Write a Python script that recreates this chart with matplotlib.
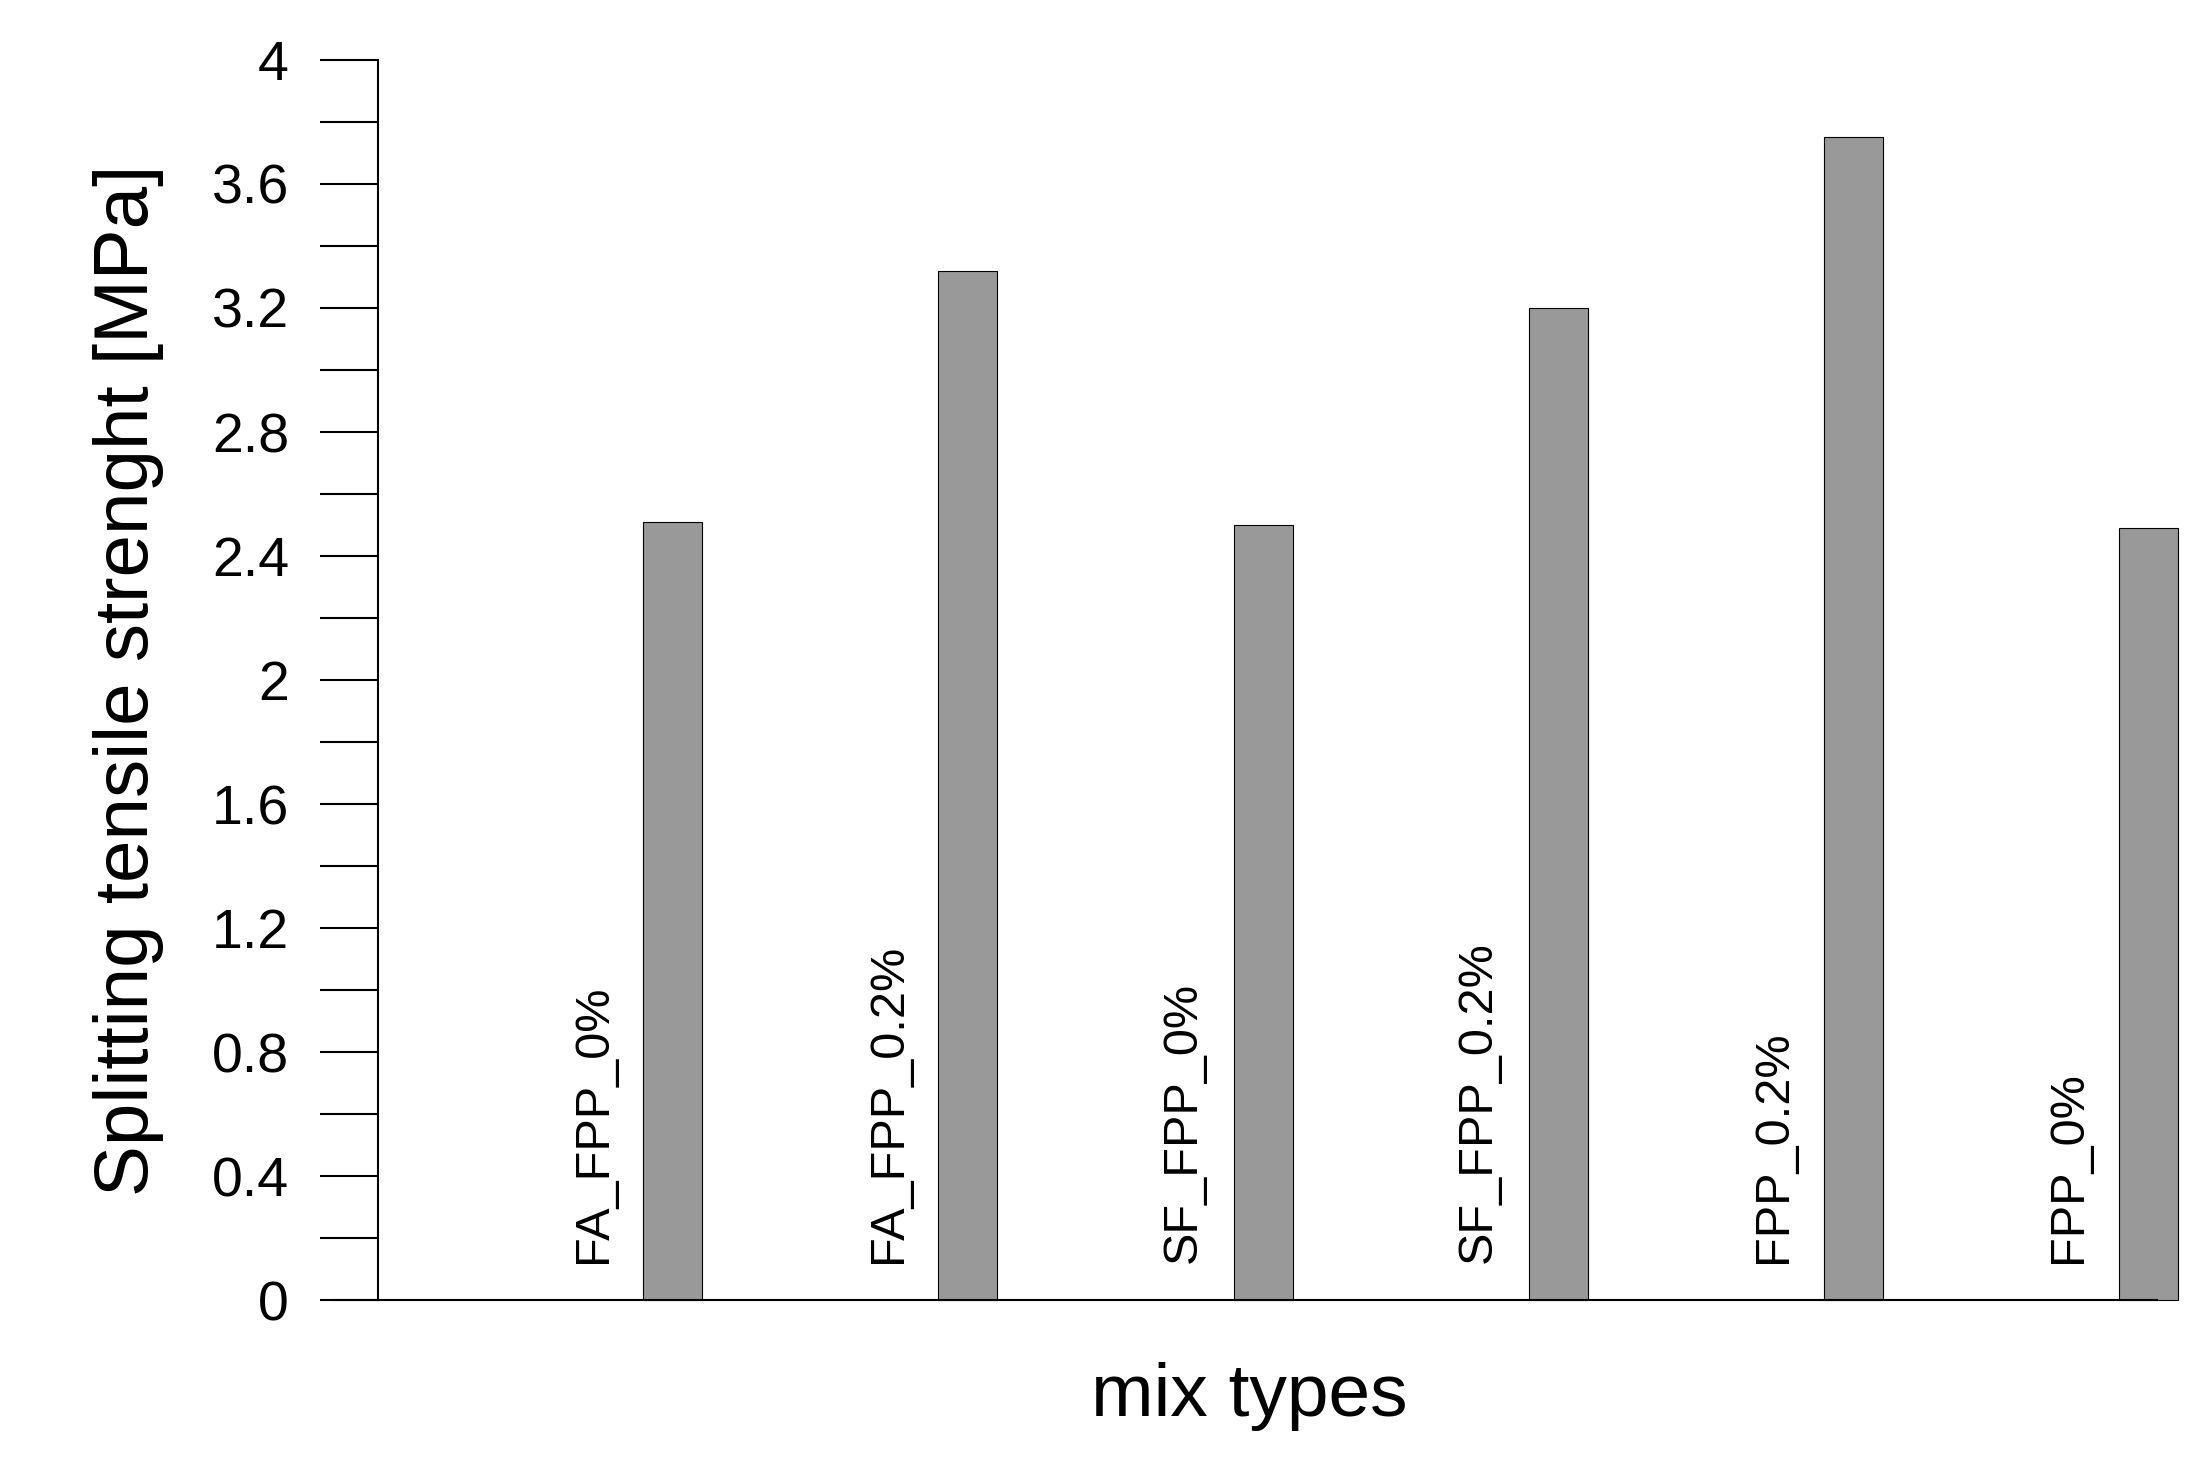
import matplotlib
matplotlib.use("Agg")
import matplotlib.pyplot as plt
from matplotlib.lines import Line2D
import numpy as np

categories = ["FA_FPP_0%", "FA_FPP_0.2%", "SF_FPP_0%", "SF_FPP_0.2%", "FPP_0.2%", "FPP_0%"]
values = [2.51, 3.32, 2.50, 3.20, 3.75, 2.49]

plt.rcParams['font.family'] = ['Liberation Sans', 'DejaVu Sans']
fig = plt.figure(figsize=(22.1, 14.61), dpi=100)
ax = fig.add_axes([0.171, 0.110, 0.805, 0.849])
x = np.arange(1, len(values) + 1)
bars = ax.bar(x, values, width=0.2, color="#999999", edgecolor="black", linewidth=0.8)
for b in bars:
    b.set_clip_on(False)
for xi, lab in zip(x, categories):
    ax.text(xi - 0.27, 0.12, lab, rotation=90, ha="center", va="bottom", fontsize=35)
ax.set_xlim(0, 6.03)
ax.set_ylim(0, 4)
ax.set_yticks(np.arange(0, 4.01, 0.4))
ax.set_yticklabels(["0", "0.4", "0.8", "1.2", "1.6", "2", "2.4", "2.8", "3.2", "3.6", "4"])
ax.set_yticks(np.arange(0, 4.01, 0.2), minor=True)
ax.tick_params(axis="y", which="both", direction="out", length=42, width=1.5, labelsize=40, pad=22)
ax.set_xticks([])
for s in ["top", "right"]:
    ax.spines[s].set_visible(False)
ax.spines["left"].set_linewidth(1.5)
ax.spines["bottom"].set_linewidth(1.5)
ax.add_line(Line2D([-0.024, 0], [0, 0], transform=ax.transAxes, color="black", lw=1.5, clip_on=False))
ax.set_ylabel("Splitting tensile strenght [MPa]", fontsize=55)
ax.yaxis.set_label_coords(-0.12, 0.5)
ax.set_xlabel("mix types", fontsize=54)
ax.xaxis.set_label_coords(0.49, -0.05)
fig.savefig("out.png", dpi=100)
